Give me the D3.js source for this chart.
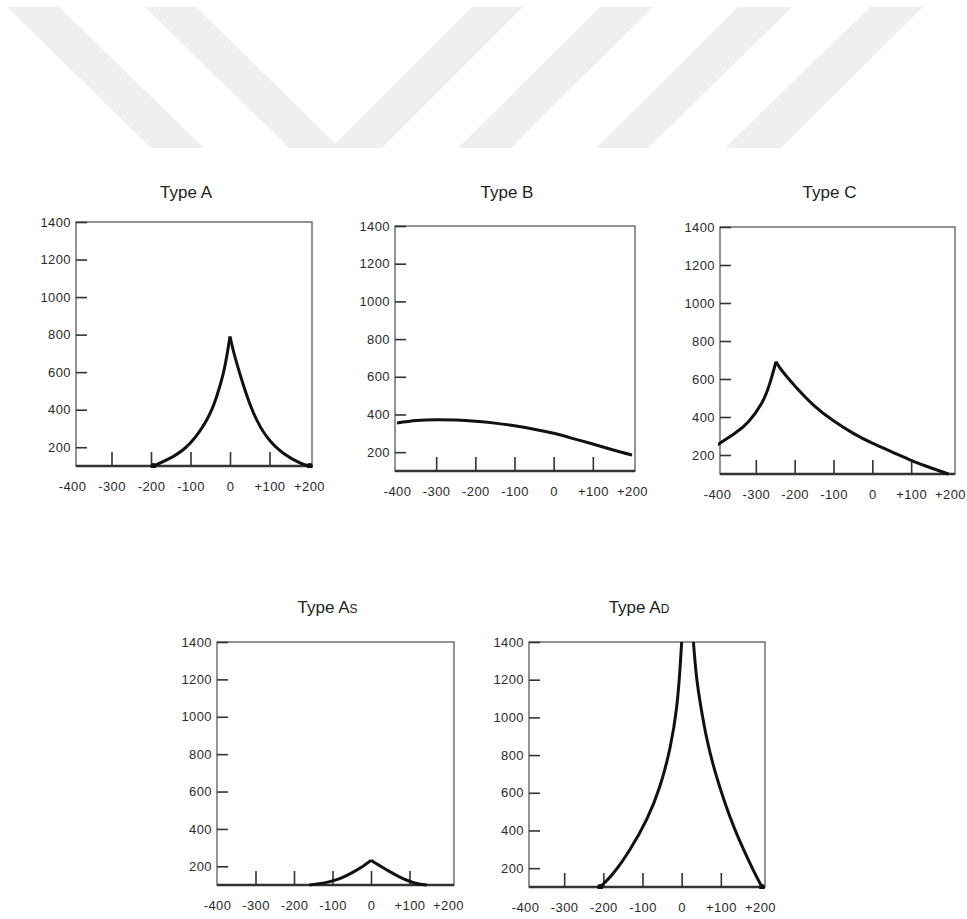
<!DOCTYPE html>
<html>
<head>
<meta charset="utf-8">
<script src="https://cdn.jsdelivr.net/npm/d3@7"></script>
<style>
  html, body { margin: 0; padding: 0; background: #fff; }
  svg { display: block; }
</style>
</head>
<body>
<svg id="chart"></svg>
<script>
const width = 967;
const height = 919;

// axis ticks shared by every panel
const xTicks = [-400, -300, -200, -100, 0, 100, 200];
const xTickLabels = ['-400', '-300', '-200', '-100', '0', '+100', '+200'];
const yTicks = [200, 400, 600, 800, 1000, 1200, 1400];

// curves, [pressure, value]
const typeALeft = [[-194, 100], [-144, 150], [-101, 221], [-59, 345], [-34, 469], [-17, 594], [-7, 700], [0, 790]];
const typeARight = [[0, 790], [8, 718], [17, 648], [34, 530], [59, 385], [93, 256], [135, 168], [177, 117], [202, 100]];
const typeB = [[-400, 355], [-350, 368], [-300, 372], [-250, 370], [-200, 364], [-150, 354], [-100, 340], [-50, 322], [0, 300], [50, 272], [100, 243], [150, 213], [200, 185]];
const typeCLeft = [[-400, 252], [-354, 314], [-319, 375], [-285, 472], [-264, 577], [-248, 691]];
const typeCRight = [[-248, 691], [-235, 650], [-220, 612], [-200, 565], [-150, 460], [-100, 380], [-50, 315], [0, 262], [50, 217], [100, 172], [150, 133], [196, 100]];
const typeAsLeft = [[-160, 100], [-125, 110], [-100, 122], [-75, 140], [-50, 165], [-25, 195], [0, 232]];
const typeAsRight = [[0, 232], [25, 200], [50, 170], [75, 142], [100, 120], [125, 105], [145, 100]];
const typeAdLeft = [[-208, 100], [-174, 174], [-132, 299], [-89, 460], [-55, 639], [-30, 836], [-13, 1051], [-4, 1266], [0, 1400]];
const typeAdRight = [[30, 1400], [38, 1215], [50, 1045], [65, 880], [85, 715], [110, 550], [135, 410], [160, 290], [185, 180], [205, 100]];

// box = frame [x, y, w, h]; xr = where -400 and +200 sit, relative to the frame
const panels = [
  { title: 'Type A', sub: '', box: [76, 222, 236, 244], xr: [-4, 233], titleY: 198, series: [typeALeft, typeARight], dots: true },
  { title: 'Type B', sub: '', box: [395, 226, 240, 245], xr: [2, 237], titleY: 198, series: [typeB], dots: false },
  { title: 'Type C', sub: '', box: [720, 227, 235, 247], xr: [-3, 230], titleY: 198, series: [typeCLeft, typeCRight], dots: false },
  { title: 'Type A', sub: 'S', box: [217, 642, 237, 243], xr: [0, 231], titleY: 613, series: [typeAsLeft, typeAsRight], dots: false },
  { title: 'Type A', sub: 'D', box: [529, 642, 236, 245], xr: [-4, 231], titleY: 613, series: [typeAdLeft, typeAdRight], dots: true }
];

const svg = d3.select('#chart')
  .attr('width', width)
  .attr('height', height)
  .style('font-family', '"Liberation Sans", Arial, sans-serif');

// faint watermark stripes at the top of the page
const stripes = [
  [[7, 7], [59, 7], [204, 148], [151, 148]],
  [[145, 7], [196, 7], [340, 148], [289, 148]],
  [[472, 7], [523, 7], [382, 148], [331, 148]],
  [[600, 7], [653, 7], [511, 148], [458, 148]],
  [[738, 7], [792, 7], [648, 148], [596, 148]],
  [[870, 7], [923, 7], [781, 148], [725, 148]]
];
svg.append('g')
  .selectAll('polygon')
  .data(stripes)
  .enter()
  .append('polygon')
  .attr('points', d => d.map(p => p.join(',')).join(' '))
  .attr('fill', '#efefef');

const line = d3.line()
  .x(d => d[0])
  .y(d => d[1])
  .curve(d3.curveNatural);

panels.forEach((p, i) => {
  const [bx, by, w, h] = p.box;
  const x = d3.scaleLinear().domain([-400, 200]).range(p.xr);
  const y = d3.scaleLinear().domain([100, 1400]).range([h, 0]);

  const g = svg.append('g').attr('transform', `translate(${bx}, ${by})`);

  // title
  const t = svg.append('text')
    .attr('x', bx + w / 2 - 8)
    .attr('y', p.titleY)
    .attr('text-anchor', 'middle')
    .attr('font-size', 17)
    .attr('fill', '#222')
    .text(p.title);
  if (p.sub) {
    t.append('tspan').attr('font-size', 12).text(p.sub);
  }

  // frame
  g.append('rect')
    .attr('width', w)
    .attr('height', h)
    .attr('fill', 'none')
    .attr('stroke', '#666')
    .attr('stroke-width', 1.4);

  const xAxis = d3.axisBottom(x)
    .tickValues(xTicks)
    .tickFormat((d, k) => xTickLabels[k])
    .tickSizeInner(-14)
    .tickSizeOuter(0)
    .tickPadding(16);

  const yAxis = d3.axisLeft(y)
    .tickValues(yTicks)
    .tickFormat(d3.format('d'))
    .tickSizeInner(-11)
    .tickSizeOuter(0)
    .tickPadding(5);

  const gx = g.append('g')
    .attr('transform', `translate(0, ${h})`)
    .call(xAxis);
  const gy = g.append('g').call(yAxis);

  [gx, gy].forEach(a => {
    a.select('.domain').remove();
    a.selectAll('line').attr('stroke', '#333').attr('stroke-width', 1.6);
    a.selectAll('text')
      .attr('font-family', '"Liberation Sans", Arial, sans-serif')
      .attr('font-size', 13)
      .attr('letter-spacing', 0.4)
      .attr('fill', '#2a2a2a');
  });

  // the end ticks fall on the frame itself
  gx.selectAll('.tick line').filter(d => d === -400 || d === 200).remove();

  // keep the last x label inside the page
  gx.selectAll('text').each(function () {
    const b = this.getBoundingClientRect();
    if (b.right > width - 1) {
      d3.select(this).attr('x', -(b.right - width + 1));
    }
  });

  // heavier base line
  g.append('line')
    .attr('x1', 0).attr('x2', w)
    .attr('y1', h).attr('y2', h)
    .attr('stroke', '#333')
    .attr('stroke-width', 2.4);

  g.append('clipPath')
    .attr('id', 'clip' + i)
    .append('rect')
    .attr('x', -2).attr('y', 0)
    .attr('width', w + 4).attr('height', h + 2);

  const curves = g.append('g').attr('clip-path', `url(#clip${i})`);
  p.series.forEach(s => {
    curves.append('path')
      .datum(s.map(d => [x(d[0]), y(d[1])]))
      .attr('d', line)
      .attr('fill', 'none')
      .attr('stroke', '#111')
      .attr('stroke-width', 3)
      .attr('stroke-linejoin', 'round');
  });

  if (p.dots) {
    const ends = p.series.flatMap(s => [s[0], s[s.length - 1]]).filter(d => d[1] === 100);
    curves.selectAll('circle')
      .data(ends)
      .enter()
      .append('circle')
      .attr('cx', d => x(d[0]))
      .attr('cy', d => y(d[1]))
      .attr('r', 3)
      .attr('fill', '#111');
  }
});
</script>
</body>
</html>
